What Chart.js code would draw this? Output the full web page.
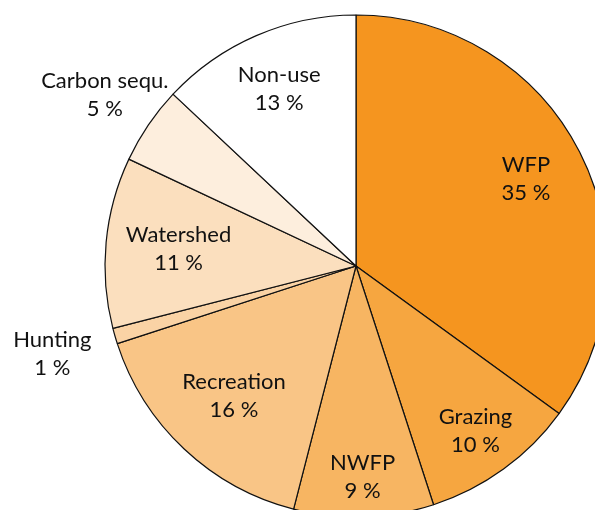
<!DOCTYPE html>
<html>
<head>
<meta charset="utf-8">
<script src="https://cdn.jsdelivr.net/npm/chart.js@4/dist/chart.umd.min.js"></script>
<style>
  html, body { margin:0; padding:0; background:#fff; }
  #wrap { position:relative; width:595px; height:510px; overflow:hidden; }
</style>
</head>
<body>
<div id="wrap"><canvas id="pie" width="595" height="510"></canvas></div>
<script>
// slices clockwise from 12 o'clock
const categories = ['WFP', 'Grazing', 'NWFP', 'Recreation', 'Hunting', 'Watershed', 'Carbon sequ.', 'Non-use'];
const shares = [35, 10, 9, 16, 1, 11, 5, 13];
const sliceColors = ['#f5951f', '#f6a640', '#f7b562', '#f9c586', '#fad3a5', '#fbdfbe', '#fdeedd', '#ffffff'];
// label distance from centre, as a fraction of the radius
const labelRadius = [0.76, 0.81, 0.84, 0.71, 1.26, 0.71, 1.21, 0.77];

const sliceLabels = {
  id: 'sliceLabels',
  afterDatasetsDraw(chart) {
    const ctx = chart.ctx;
    const arcs = chart.getDatasetMeta(0).data;
    ctx.save();
    ctx.font = '22px Lato';
    ctx.fillStyle = '#111';
    ctx.textAlign = 'center';
    ctx.textBaseline = 'middle';
    arcs.forEach((arc, i) => {
      const mid = (arc.startAngle + arc.endAngle) / 2;
      const r = arc.outerRadius * labelRadius[i];
      const x = arc.x + Math.cos(mid) * r;
      const y = arc.y + Math.sin(mid) * r;
      ctx.fillText(categories[i], x, y - 14);
      ctx.fillText(shares[i] + ' %', x, y + 14);
    });
    ctx.restore();
  }
};

new Chart(document.getElementById('pie'), {
  type: 'pie',
  data: {
    labels: categories,
    datasets: [{
      data: shares,
      backgroundColor: sliceColors,
      borderColor: '#111',
      borderWidth: 1.2,
      clip: false
    }]
  },
  options: {
    responsive: false,
    animation: false,
    radius: 251,
    layout: { padding: { left: 117, right: 0, top: 22, bottom: 0 } },
    plugins: { legend: { display: false }, tooltip: { enabled: false } }
  },
  plugins: [sliceLabels]
});
</script>
</body>
</html>
